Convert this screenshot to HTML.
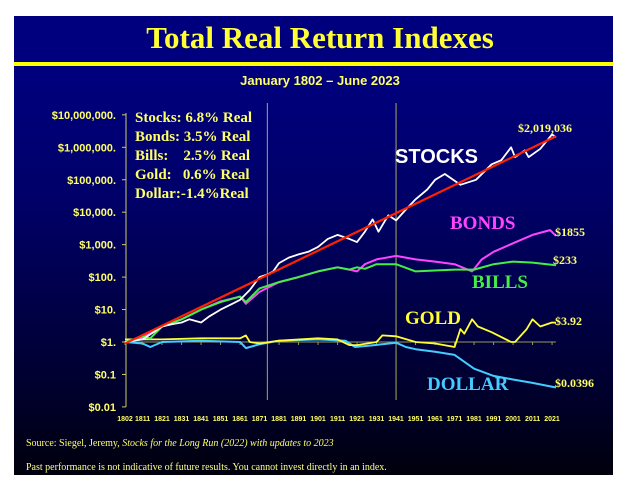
<!DOCTYPE html>
<html><head><meta charset="utf-8">
<style>
body{margin:0;width:631px;height:499px;background:#fff;overflow:hidden;font-family:"Liberation Sans",sans-serif}
#slide{position:absolute;left:14px;top:16px;width:599px;height:459px;background:linear-gradient(#00007e 0%,#00007e 12%,#000068 40%,#000028 85%,#00000c 100%)}
svg{position:absolute;left:0;top:0}
</style></head><body>
<div id="slide"></div>
<svg id="chart" width="631" height="499">
<rect x="14" y="16" width="599" height="47" fill="#00007e"/>
<rect x="14" y="62" width="599" height="4" fill="#ffff00"/>
<text x="320" y="48" text-anchor="middle" font-family="Liberation Serif,serif" font-weight="bold" font-size="31" fill="#ffff33">Total Real Return Indexes</text>
<text x="320" y="85" text-anchor="middle" font-weight="bold" font-size="13" fill="#ffff66">January 1802 – June 2023</text>
<g id="axes"></g>
<g id="series"></g>
<g font-family="Liberation Serif,serif" font-weight="bold" font-size="15" fill="#ffff66">
<text x="135" y="122">Stocks: 6.8% Real</text>
<text x="135" y="141">Bonds: 3.5% Real</text>
<text x="135" y="160" xml:space="preserve">Bills:    2.5% Real</text>
<text x="135" y="179" xml:space="preserve">Gold:   0.6% Real</text>
<text x="135" y="198">Dollar:-1.4%Real</text>
</g>
<text x="395" y="163" font-weight="bold" font-size="20" fill="#fff">STOCKS</text>
<g font-family="Liberation Serif,serif" font-weight="bold" font-size="19">
<text x="450" y="229" fill="#ff44ff">BONDS</text>
<text x="472" y="288" fill="#44ee44">BILLS</text>
<text x="405" y="324" fill="#ffff33">GOLD</text>
<text x="427" y="390" fill="#44ccff">DOLLAR</text>
</g>
<g font-family="Liberation Serif,serif" font-weight="bold" font-size="12" fill="#ffff66">
<text x="518" y="132">$2,019,036</text>
<text x="555" y="236">$1855</text>
<text x="553" y="264">$233</text>
<text x="555" y="325">$3.92</text>
<text x="555" y="387">$0.0396</text>
</g>
<text x="26" y="446" font-family="Liberation Serif,serif" font-size="10" fill="#ffff66">Source: Siegel, Jeremy, <tspan font-style="italic">Stocks for the Long Run (2022) with updates to 2023</tspan></text>
<text x="26" y="470" font-family="Liberation Serif,serif" font-size="10" fill="#ffff88">Past performance is not indicative of future results. You cannot invest directly in an index.</text>
</svg>
<script>
const yTickVals=[10000000,1000000,100000,10000,1000,100,10,1,0.1,0.01];
const yTickLabels=["$10,000,000.","$1,000,000.","$100,000.","$10,000.","$1,000.","$100.","$10.","$1.","$0.1","$0.01"];
const xTickLabels=[1802,1811,1821,1831,1841,1851,1861,1871,1881,1891,1901,1911,1921,1931,1941,1951,1961,1971,1981,1991,2001,2011,2021];
const vLines=[1875,1941];
const stocksYears=[1802,1811,1821,1826,1831,1835,1841,1845,1851,1857,1861,1866,1871,1875,1878,1881,1886,1891,1896,1901,1906,1911,1917,1921,1925,1929,1932,1937,1941,1946,1951,1957,1961,1966,1974,1982,1990,1995,2000,2002,2007,2009,2015,2021,2023];
const stocksVals=[1,1.2,3,3.5,4,5,4,6,10,15,20,40,100,120,150,270,400,500,600,850,1500,2000,1500,1200,2500,6000,2500,8000,5600,12000,25000,50000,100000,150000,70000,100000,300000,400000,1000000,500000,800000,500000,900000,2500000,2019036];
const bondsYears=[1802,1811,1821,1831,1841,1851,1861,1864,1871,1881,1891,1901,1911,1917,1921,1925,1931,1941,1951,1961,1971,1980,1985,1991,2001,2011,2020,2023];
const bondsVals=[1,1.4,3,5,10,18,25,15,35,70,100,150,200,170,150,250,350,450,350,300,250,150,350,600,1100,2000,2800,1855];
const billsYears=[1802,1811,1815,1821,1831,1841,1851,1861,1864,1871,1881,1891,1901,1911,1917,1921,1925,1931,1941,1951,1961,1971,1981,1991,2001,2011,2023];
const billsVals=[1,1.5,1.3,3,5,10,17,25,17,45,70,100,150,200,170,200,180,250,250,150,160,170,170,250,300,280,233];
const goldYears=[1802,1821,1841,1861,1864,1866,1871,1881,1901,1911,1917,1921,1931,1934,1941,1951,1961,1971,1974,1976,1980,1983,1990,2000,2002,2008,2011,2015,2021,2023];
const goldVals=[1.2,1.2,1.3,1.3,1.6,1.0,0.9,1.1,1.3,1.2,0.8,0.8,1.0,1.6,1.5,1.0,0.9,0.7,2.5,1.8,5,3,2,1,1,2.5,5,3,4,3.92];
const dollarYears=[1802,1811,1815,1821,1841,1861,1864,1871,1881,1901,1915,1920,1930,1941,1946,1951,1961,1971,1981,1991,2001,2011,2023];
const dollarVals=[1,0.9,0.7,1,1.1,1,0.65,0.85,1.1,1.2,1.1,0.7,0.8,0.95,0.7,0.6,0.5,0.4,0.15,0.09,0.07,0.055,0.0396];
const trendYears=[1802,2023];
const trendVals=[0.9,2200000];

const NS="http://www.w3.org/2000/svg";
function xS(yr){return 125+(yr-1802)*1.95;}
function yS(v){return 342-Math.log10(v)*32.45;}
function mk(tag,attrs,parent){const e=document.createElementNS(NS,tag);for(const k in attrs)e.setAttribute(k,attrs[k]);parent.appendChild(e);return e;}
const axes=document.getElementById('axes');
let ya=mk('line',{x1:126,x2:126,y1:113,y2:yS(0.01),stroke:'#cccc66','stroke-width':1},axes);


let xa=mk('line',{x1:126,x2:xS(2023),y1:yS(1),y2:yS(1),stroke:'#999955','stroke-width':1},axes);


yTickVals.forEach((v,i)=>{
  const t=mk('line',{x1:122,x2:126,y1:yS(v),y2:yS(v),stroke:'#cccc66'},axes);
  
  
  const l=mk('text',{x:116,y:yS(v)+4,'text-anchor':'end','font-size':11,'font-weight':'bold',fill:'#ffff66'},axes);
  l.textContent=yTickLabels[i];
  
  
});
xTickLabels.forEach(yr=>{
  const t=mk('line',{x1:xS(yr),x2:xS(yr),y1:yS(1),y2:yS(1)+3,stroke:'#999955'},axes);
  
  
  const l=mk('text',{x:xS(yr),y:421,'text-anchor':'middle','font-size':7,'font-weight':'bold',fill:'#ffff66'},axes);
  l.textContent=yr;
  
  
});
vLines.forEach(yr=>{
  const l=mk('line',{x1:xS(yr),x2:xS(yr),y1:103,y2:400,stroke:'#aaaa55','stroke-width':1},axes);
  
  
});
const ser=document.getElementById('series');
function line(ys,vs,color,w,name){
  const d=ys.map((y,i)=>(i?'L':'M')+xS(y).toFixed(1)+','+yS(vs[i]).toFixed(1)).join('');
  const p=mk('path',{d:d,fill:'none',stroke:color,'stroke-width':w,'stroke-linejoin':'round'},ser);
  
  
}
line(dollarYears,dollarVals,'#44ccff',2,'dollar-line');
line(goldYears,goldVals,'#ffff33',1.8,'gold-line');
line(bondsYears,bondsVals,'#ff44ff',2,'bonds-line');
line(billsYears,billsVals,'#44ee44',2,'bills-line');
line(stocksYears,stocksVals,'#ffffff',1.8,'stocks-line');
line(trendYears,trendVals,'#ff2200',2.2,'stocks-trend-line');
</script>
</body></html>
